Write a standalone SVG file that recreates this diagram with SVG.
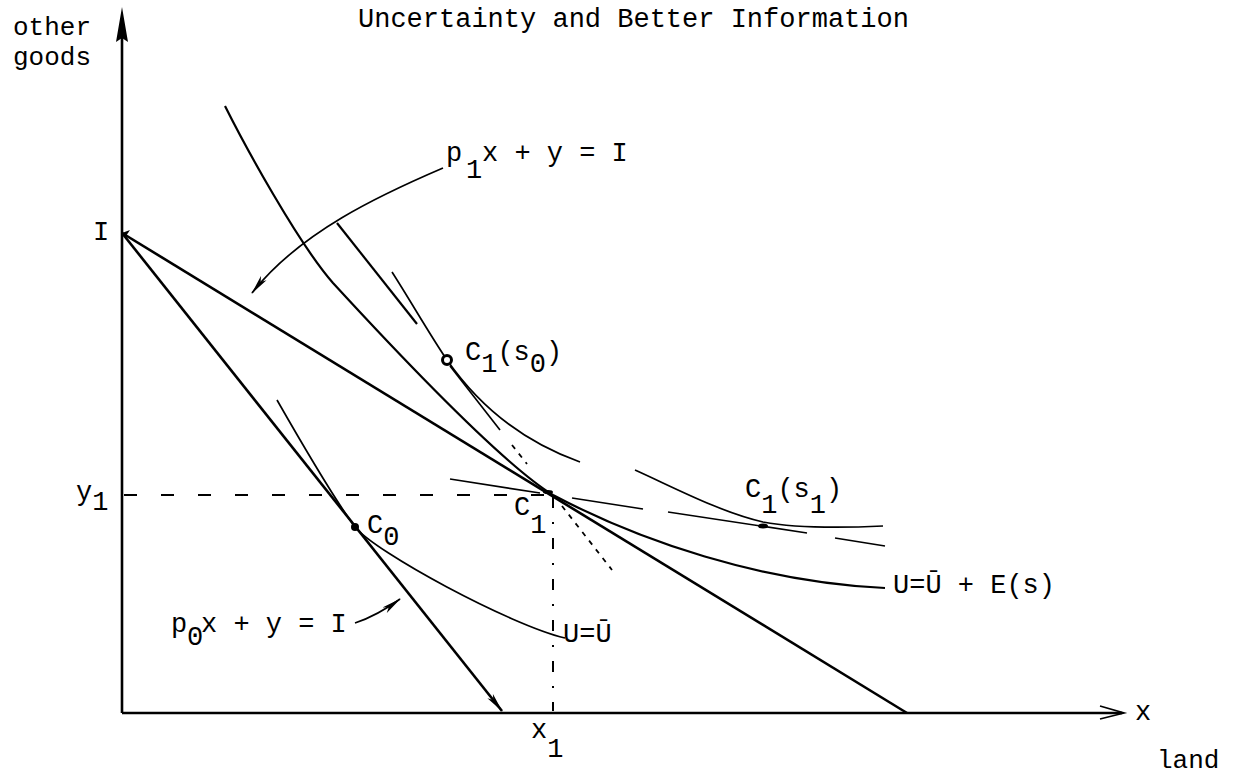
<svg xmlns="http://www.w3.org/2000/svg" width="1243" height="778" viewBox="0 0 1243 778">
<style>
.ax{stroke:#000;stroke-width:2.6;fill:none}
.bl{stroke:#000;stroke-width:2.6;fill:none}
.ic{stroke:#000;stroke-width:2.2;fill:none}
.th{stroke:#000;stroke-width:1.7;fill:none}
.dh{stroke:#000;stroke-width:2;fill:none;stroke-dasharray:13 24}
.dv{stroke:#000;stroke-width:2;fill:none;stroke-dasharray:11 14 2 14}
.dt{stroke:#000;stroke-width:1.8;fill:none;stroke-dasharray:5 6}
text{font-family:"Liberation Mono","DejaVu Sans Mono",monospace;font-size:27px;fill:#000}
.sm{font-size:26px}
</style>
<defs>
<marker id="ah" viewBox="0 0 20 8" refX="19" refY="4" markerWidth="20" markerHeight="8" markerUnits="userSpaceOnUse" orient="auto">
<path d="M0,0.5 L20,4 L0,7.5 L5,4 Z" fill="#000"/>
</marker>
</defs>
<rect width="1243" height="778" fill="#fff"/>

<g id="axes">
<path class="ax" d="M122,713 L122,30"/>
<path d="M122,7 L128,42 L122,38 L116,42 Z" fill="#000"/>
<path class="ax" d="M122,713 L1122,713" stroke-width="2.2"/>
<path class="th" d="M1100,706 L1124,713 L1100,719 M1108,713 L1124,713"/>
</g>

<g id="guides">
<path class="dh" d="M124,495 L553,495"/>
<path class="dv" d="M553,497 L553,711"/>
</g>

<g id="budget-lines">
<path id="p0-line" class="bl" d="M122,233 L502,711" marker-end="url(#ah)"/>
<path id="p1-line" class="bl" d="M122,233 L907,713" stroke-width="2.3"/>
<path d="M122,233 l8,-3 l-4,6 z" fill="#000"/>
</g>

<g id="state-lines">
<path class="ic" d="M337,223 L417,324"/>
<path class="th" d="M450,366 L500,430"/>
<path class="dt" d="M512,445 L527,464"/>
<path class="dt" d="M562,506 L612,570"/>
<path class="th" d="M450,479 L540,493"/>
<path class="th" d="M572,498 L643,509"/>
<path class="th" d="M668,512 L807,533"/>
<path class="th" d="M835,538 L885,546"/>
</g>

<g id="indifference-curves">
<path id="curve-EU" class="ic" d="M225,106 C245,146 298,243 333,283 C390,345 500,462 553,495 C640,541 760,582 885,588"/>
<path id="curve-U" class="th" d="M277,400 C297,435 335,500 355,527 C375,552 510,625 565,638"/>
<path id="curve-s0" class="th" d="M392,272 C410,300 430,335 447,360 C470,393 510,437 580,462"/>
<path id="curve-s1" class="th" d="M635,470 C675,488 720,512 763,522 C795,528 840,528 883,526"/>
</g>

<g id="points">
<circle id="pt-C1s0" cx="447" cy="360" r="4.5" fill="#fff" stroke="#000" stroke-width="3"/>
<circle id="pt-C0" cx="355" cy="527" r="4" fill="#000"/>
<ellipse id="pt-C1s1" cx="763" cy="526" rx="5" ry="2.5" fill="#000"/>
<ellipse id="pt-C1" cx="548" cy="492" rx="5" ry="2" fill="#000"/>
</g>

<g id="connectors">
<path class="th" d="M443,168 C380,195 300,232 252,293" marker-end="url(#ah)"/>
<path class="th" d="M355,623 C370,618 385,610 400,599" marker-end="url(#ah)"/>
</g>

<g id="labels">
<text x="358" y="27">Uncertainty and Better Information</text>
<text class="sm" x="13" y="35">other</text>
<text class="sm" x="13" y="65">goods</text>
<text x="93" y="240">I</text>
<text x="76" y="500">y<tspan dy="10">1</tspan></text>
<text x="531" y="738">x<tspan dy="19">1</tspan></text>
<text x="1135" y="720">x</text>
<text class="sm" x="1157" y="768">land</text>
<text x="446" y="161">p<tspan x="466" dy="17">1</tspan><tspan x="482" dy="-17">x + y = I</tspan></text>
<text x="171" y="632">p<tspan x="187" dy="13">0</tspan><tspan x="201" dy="-13">x + y = I</tspan></text>
<text x="465" y="360">C<tspan dy="12">1</tspan><tspan dy="-12">(s</tspan><tspan dy="12">0</tspan><tspan dy="-12">)</tspan></text>
<text x="367" y="533">C<tspan dy="12">0</tspan></text>
<text x="514" y="515">C<tspan dy="18">1</tspan></text>
<text x="745" y="497">C<tspan dy="16">1</tspan><tspan dy="-16">(s</tspan><tspan dy="16">1</tspan><tspan dy="-16">)</tspan></text>
<text x="893" y="593">U=Ū + E(s)</text>
<text x="563" y="642">U=Ū</text>
</g>
</svg>
